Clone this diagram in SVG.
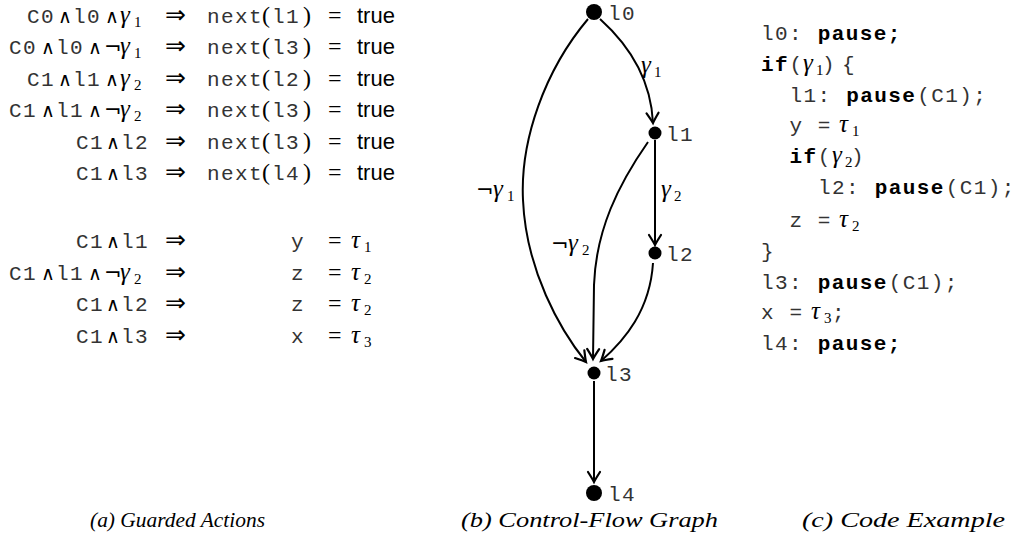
<svg xmlns="http://www.w3.org/2000/svg" width="1019" height="545" viewBox="0 0 1019 545">
<style>
.m{font-family:"Liberation Mono",monospace;font-size:21px;letter-spacing:1.4px;fill:#333}
.mb{font-family:"Liberation Mono",monospace;font-size:21px;letter-spacing:1.4px;font-weight:bold;fill:#000}
.s{font-family:"DejaVu Sans","DejaVu Serif",sans-serif;font-size:19px;fill:#000}
.ng{font-family:"DejaVu Sans","DejaVu Serif",sans-serif;font-size:21px;fill:#000}
.ar{font-family:"DejaVu Sans","DejaVu Serif",sans-serif;font-size:25px;fill:#000}
.eq{font-family:"Liberation Serif",serif;font-size:24px;fill:#000}
.i{font-family:"Liberation Serif",serif;font-style:italic;font-size:25px;fill:#000}
.sub{font-family:"Liberation Serif",serif;font-size:15px;fill:#000}
.sf{font-family:"Liberation Sans",sans-serif;font-size:22px;fill:#000}
.cap{font-family:"Liberation Serif",serif;font-style:italic;font-size:22px;fill:#000}
.edge{fill:none;stroke:#000;stroke-width:2;marker-end:url(#arr)}
.dot{fill:#000}
</style>
<defs>
<marker id="arr" markerUnits="userSpaceOnUse" markerWidth="16" markerHeight="16" viewBox="-13 -8 16 16" refX="0" refY="0" orient="auto">
<path d="M-10,-6 Q-3,-1.5 0,0 Q-3,1.5 -10,6" fill="none" stroke="#000" stroke-width="2.2" stroke-linecap="round"/>
</marker>
</defs>
<rect width="1019" height="545" fill="#fff"/>

<!-- (a) Guarded actions -->
<g id="guarded-actions">
<text id="ga-row1" y="23"><tspan class="m" x="27">C0</tspan><tspan class="s" x="58">∧</tspan><tspan class="m" x="73">l0</tspan><tspan class="s" x="105">∧</tspan><tspan class="i" x="120">γ</tspan><tspan class="sub" x="134" y="27">1</tspan><tspan class="ar" x="165" y="23">⇒</tspan><tspan class="m" x="207">next</tspan><tspan class="eq" x="262">(</tspan><tspan class="m" x="272">l1</tspan><tspan class="eq" x="303">)</tspan><tspan class="eq" x="328">=</tspan><tspan class="sf" x="357">true</tspan></text>
<text id="ga-row2" y="54"><tspan class="m" x="9">C0</tspan><tspan class="s" x="41">∧</tspan><tspan class="m" x="56">l0</tspan><tspan class="s" x="88">∧</tspan><tspan class="ng" x="104">¬</tspan><tspan class="i" x="120">γ</tspan><tspan class="sub" x="134" y="58">1</tspan><tspan class="ar" x="165" y="54">⇒</tspan><tspan class="m" x="207">next</tspan><tspan class="eq" x="262">(</tspan><tspan class="m" x="272">l3</tspan><tspan class="eq" x="303">)</tspan><tspan class="eq" x="328">=</tspan><tspan class="sf" x="357">true</tspan></text>
<text id="ga-row3" y="86"><tspan class="m" x="27">C1</tspan><tspan class="s" x="58">∧</tspan><tspan class="m" x="73">l1</tspan><tspan class="s" x="105">∧</tspan><tspan class="i" x="120">γ</tspan><tspan class="sub" x="134" y="90">2</tspan><tspan class="ar" x="165" y="86">⇒</tspan><tspan class="m" x="207">next</tspan><tspan class="eq" x="262">(</tspan><tspan class="m" x="272">l2</tspan><tspan class="eq" x="303">)</tspan><tspan class="eq" x="328">=</tspan><tspan class="sf" x="357">true</tspan></text>
<text id="ga-row4" y="117"><tspan class="m" x="9">C1</tspan><tspan class="s" x="41">∧</tspan><tspan class="m" x="56">l1</tspan><tspan class="s" x="88">∧</tspan><tspan class="ng" x="104">¬</tspan><tspan class="i" x="120">γ</tspan><tspan class="sub" x="134" y="121">2</tspan><tspan class="ar" x="165" y="117">⇒</tspan><tspan class="m" x="207">next</tspan><tspan class="eq" x="262">(</tspan><tspan class="m" x="272">l3</tspan><tspan class="eq" x="303">)</tspan><tspan class="eq" x="328">=</tspan><tspan class="sf" x="357">true</tspan></text>
<text id="ga-row5" y="149"><tspan class="m" x="76">C1</tspan><tspan class="s" x="106">∧</tspan><tspan class="m" x="121">l2</tspan><tspan class="ar" x="165">⇒</tspan><tspan class="m" x="207">next</tspan><tspan class="eq" x="262">(</tspan><tspan class="m" x="272">l3</tspan><tspan class="eq" x="303">)</tspan><tspan class="eq" x="328">=</tspan><tspan class="sf" x="357">true</tspan></text>
<text id="ga-row6" y="180"><tspan class="m" x="76">C1</tspan><tspan class="s" x="106">∧</tspan><tspan class="m" x="121">l3</tspan><tspan class="ar" x="165">⇒</tspan><tspan class="m" x="207">next</tspan><tspan class="eq" x="262">(</tspan><tspan class="m" x="272">l4</tspan><tspan class="eq" x="303">)</tspan><tspan class="eq" x="328">=</tspan><tspan class="sf" x="357">true</tspan></text>
<text id="ga-row7" y="248"><tspan class="m" x="76">C1</tspan><tspan class="s" x="106">∧</tspan><tspan class="m" x="121">l1</tspan><tspan class="ar" x="165">⇒</tspan><tspan class="m" x="291">y</tspan><tspan class="eq" x="328">=</tspan><tspan class="i" x="351">τ</tspan><tspan class="sub" x="364" y="252">1</tspan></text>
<text id="ga-row8" y="280"><tspan class="m" x="9">C1</tspan><tspan class="s" x="41">∧</tspan><tspan class="m" x="56">l1</tspan><tspan class="s" x="88">∧</tspan><tspan class="ng" x="104">¬</tspan><tspan class="i" x="120">γ</tspan><tspan class="sub" x="134" y="284">2</tspan><tspan class="ar" x="165" y="280">⇒</tspan><tspan class="m" x="291">z</tspan><tspan class="eq" x="328">=</tspan><tspan class="i" x="351">τ</tspan><tspan class="sub" x="364" y="284">2</tspan></text>
<text id="ga-row9" y="311"><tspan class="m" x="76">C1</tspan><tspan class="s" x="106">∧</tspan><tspan class="m" x="121">l2</tspan><tspan class="ar" x="165">⇒</tspan><tspan class="m" x="291">z</tspan><tspan class="eq" x="328">=</tspan><tspan class="i" x="351">τ</tspan><tspan class="sub" x="364" y="315">2</tspan></text>
<text id="ga-row10" y="343"><tspan class="m" x="76">C1</tspan><tspan class="s" x="106">∧</tspan><tspan class="m" x="121">l3</tspan><tspan class="ar" x="165">⇒</tspan><tspan class="m" x="291">x</tspan><tspan class="eq" x="328">=</tspan><tspan class="i" x="351">τ</tspan><tspan class="sub" x="364" y="347">3</tspan></text>
</g>

<!-- (b) Control-flow graph -->
<g id="connectors">
<path class="edge" d="M600,19 C630,46 651,80 653,123"/>
<path class="edge" d="M655,140 L655,245"/>
<path class="edge" d="M588,19 C545,70 520,140 523,200 C526,270 560,330 586,362"/>
<path class="edge" d="M648,142 C618,185 596,230 594,285 L593,359"/>
<path class="edge" d="M653,263 C650,310 625,340 601,361"/>
<path class="edge" d="M594,381 L594,482"/>
<g id="edge-labels">
<text x="641" y="73"><tspan class="i">γ</tspan><tspan class="sub" x="654" y="77">1</tspan></text>
<text x="476" y="197"><tspan class="ng">¬</tspan><tspan class="i" x="493">γ</tspan><tspan class="sub" x="507" y="201">1</tspan></text>
<text x="661" y="197"><tspan class="i">γ</tspan><tspan class="sub" x="674" y="201">2</tspan></text>
<text x="551" y="251"><tspan class="ng">¬</tspan><tspan class="i" x="568">γ</tspan><tspan class="sub" x="582" y="255">2</tspan></text>
</g>
</g>
<g id="node-l0"><circle class="dot" cx="594" cy="12" r="8"/><text class="m" x="608" y="20">l0</text></g>
<g id="node-l1"><circle class="dot" cx="655" cy="133" r="6.5"/><text class="m" x="666" y="141">l1</text></g>
<g id="node-l2"><circle class="dot" cx="655" cy="253" r="6.5"/><text class="m" x="666" y="261">l2</text></g>
<g id="node-l3"><circle class="dot" cx="594" cy="373" r="6.5"/><text class="m" x="605" y="381">l3</text></g>
<g id="node-l4"><circle class="dot" cx="594" cy="493" r="8"/><text class="m" x="608" y="501">l4</text></g>

<!-- (c) Code example -->
<g id="code-example">
<text y="40"><tspan class="m" x="761">l0:</tspan><tspan class="mb" x="817.8">pause;</tspan></text>
<text y="71"><tspan class="mb" x="761">if</tspan><tspan class="m" x="789.4">(</tspan><tspan class="i" x="803">γ</tspan><tspan class="sub" x="816" y="75">1</tspan><tspan class="m" x="822" y="71">)</tspan><tspan class="m" x="842">{</tspan></text>
<text y="102"><tspan class="m" x="789.4">l1:</tspan><tspan class="mb" x="846.2">pause</tspan><tspan class="m" x="917.2">(C1);</tspan></text>
<text y="132"><tspan class="m" x="789.4">y</tspan><tspan class="m" x="817.8">=</tspan><tspan class="i" x="839">τ</tspan><tspan class="sub" x="852" y="136">1</tspan></text>
<text y="163"><tspan class="mb" x="789.4">if</tspan><tspan class="m" x="817.8">(</tspan><tspan class="i" x="832">γ</tspan><tspan class="sub" x="845" y="167">2</tspan><tspan class="m" x="851" y="163">)</tspan></text>
<text y="194"><tspan class="m" x="818">l2:</tspan><tspan class="mb" x="874.8">pause</tspan><tspan class="m" x="945.8">(C1);</tspan></text>
<text y="227"><tspan class="m" x="789.4">z</tspan><tspan class="m" x="817.8">=</tspan><tspan class="i" x="839">τ</tspan><tspan class="sub" x="852" y="231">2</tspan></text>
<text class="m" x="761" y="258">}</text>
<text y="289"><tspan class="m" x="761">l3:</tspan><tspan class="mb" x="817.8">pause</tspan><tspan class="m" x="888.8">(C1);</tspan></text>
<text y="319"><tspan class="m" x="761">x</tspan><tspan class="m" x="789.4">=</tspan><tspan class="i" x="811">τ</tspan><tspan class="sub" x="824" y="323">3</tspan><tspan class="m" x="832" y="319">;</tspan></text>
<text y="350"><tspan class="m" x="761">l4:</tspan><tspan class="mb" x="817.8">pause;</tspan></text>
</g>

<!-- captions -->
<g id="captions">
<text class="cap" x="90" y="527" textLength="175" lengthAdjust="spacingAndGlyphs">(a) Guarded Actions</text>
<text class="cap" x="461" y="527" textLength="257" lengthAdjust="spacingAndGlyphs">(b) Control-Flow Graph</text>
<text class="cap" x="802" y="527" textLength="203" lengthAdjust="spacingAndGlyphs">(c) Code Example</text>
</g>
</svg>
